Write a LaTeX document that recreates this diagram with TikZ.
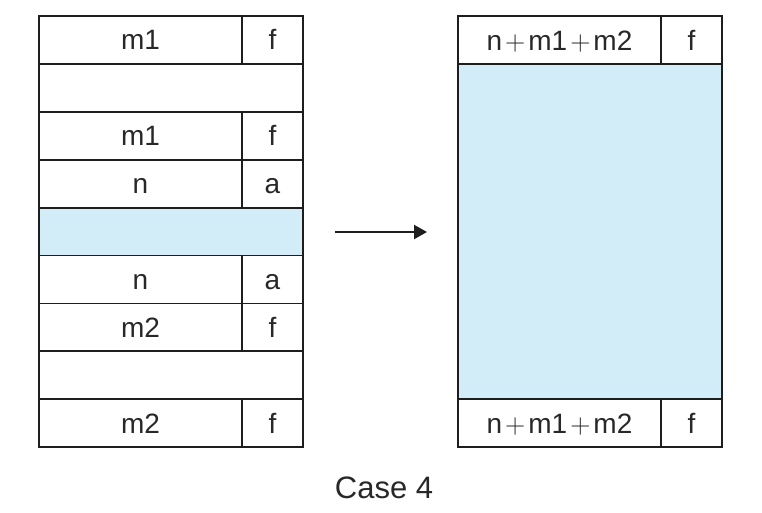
\documentclass[tikz,border=0pt]{standalone}
\usepackage{fontspec}
\setmainfont{Liberation Sans}
\newfontfamily\lmr{Latin Modern Roman}
\usetikzlibrary{arrows.meta}
\definecolor{lineC}{RGB}{30,30,30}
\definecolor{textC}{RGB}{40,40,40}
\definecolor{fillB}{RGB}{210,236,248}
\newcommand{\pl}{\kern3pt{\lmr +}\kern3pt}
\begin{document}
\begin{tikzpicture}[x=1pt,y=-1pt,
  cell/.style={draw=lineC,line width=1.8pt,rectangle,inner sep=0pt,outer sep=0pt,
    text=textC,font=\fontsize{28}{30}\selectfont,text height=20pt,text depth=0pt},
  wide/.style={cell,minimum width=203pt,minimum height=47.9pt},
  narrow/.style={cell,minimum width=61pt,minimum height=47.9pt},
  full/.style={cell,minimum width=264pt,minimum height=47.9pt},
  blue/.style={fill=fillB},
  outer/.style={draw=lineC,line width=2.6pt},
  arr/.style={draw=lineC,line width=2.2pt,-{Triangle[length=13pt,width=14pt]}}
]
\useasboundingbox (0,0) rectangle (762,512);
\fill[white] (0,0) rectangle (762,512);
% left column rows
\def\rh{47.9}
\node[wide]  (l1a) at (140.5,{16+0.5*\rh}) {m1};
\node[narrow](l1b) at (272.5,{16+0.5*\rh}) {f};
\node[full]  (l2)  at (171,{16+1.5*\rh}) {};
\node[wide]  (l3a) at (140.5,{16+2.5*\rh}) {m1};
\node[narrow](l3b) at (272.5,{16+2.5*\rh}) {f};
\node[wide]  (l4a) at (140.5,{16+3.5*\rh}) {n};
\node[narrow](l4b) at (272.5,{16+3.5*\rh}) {a};
\node[full,blue] (l5) at (171,{16+4.5*\rh}) {};
\node[wide]  (l6a) at (140.5,{16+5.5*\rh}) {n};
\node[narrow](l6b) at (272.5,{16+5.5*\rh}) {a};
\node[wide]  (l7a) at (140.5,{16+6.5*\rh}) {m2};
\node[narrow](l7b) at (272.5,{16+6.5*\rh}) {f};
\node[full]  (l8)  at (171,{16+7.5*\rh}) {};
\node[wide]  (l9a) at (140.5,{16+8.5*\rh}) {m2};
\node[narrow](l9b) at (272.5,{16+8.5*\rh}) {f};
\draw[outer] (39,16) rectangle (303,{16+9*\rh});
% right column
\node[wide]  (r1a) at (559.5,40) {n\pl m1\pl m2};
\node[narrow](r1b) at (691.5,40) {f};
\node[cell,blue,minimum width=264pt,minimum height=335pt] (r2) at (590,231.5) {};
\node[wide]  (r3a) at (559.5,423) {n\pl m1\pl m2};
\node[narrow](r3b) at (691.5,423) {f};
\draw[outer] (458,16) rectangle (722,447);
% arrow
\coordinate (as) at (335,232);
\coordinate (ae) at (427,232);
\draw[arr] (as) -- (ae);
% caption
\node[text=textC,font=\fontsize{31}{33}\selectfont,anchor=base,inner sep=0pt] (cap) at (384,498) {Case 4};
\end{tikzpicture}
\end{document}
